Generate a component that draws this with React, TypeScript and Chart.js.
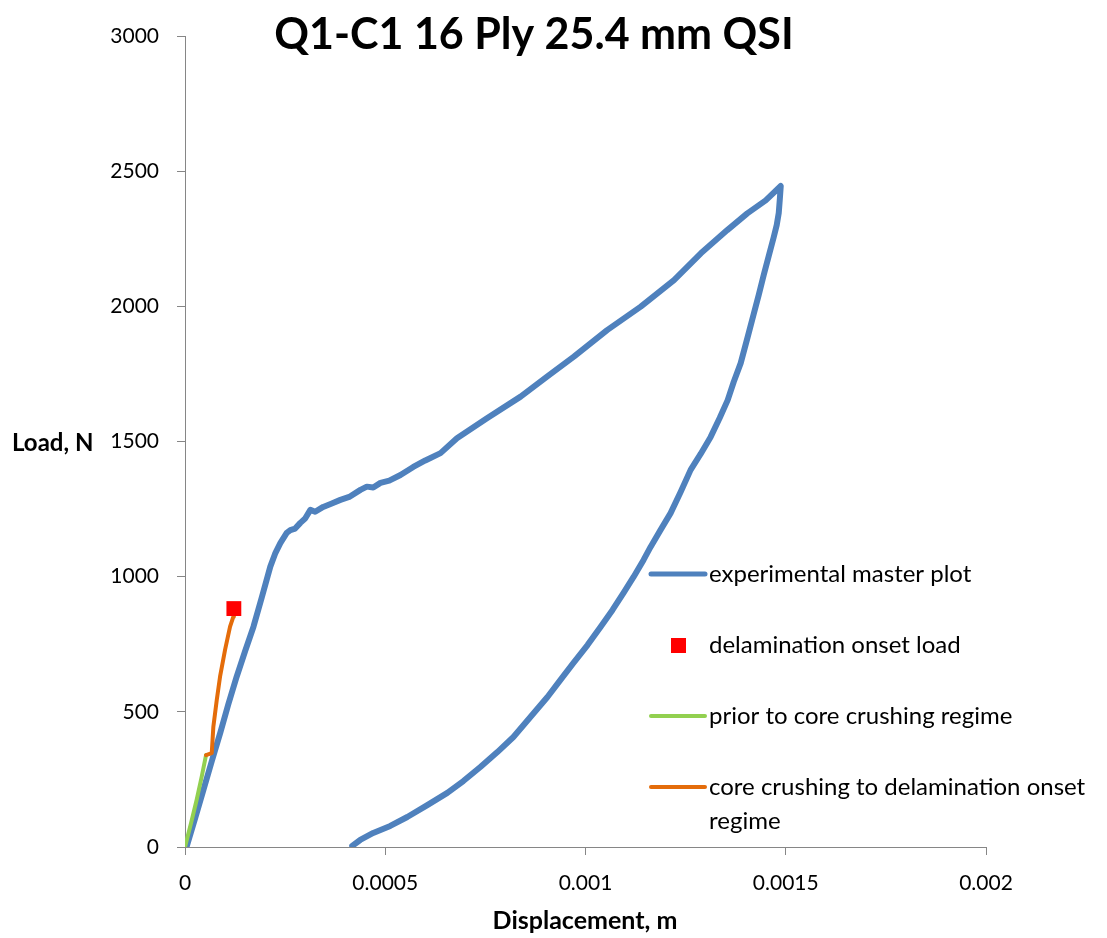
import React, { useEffect, useRef } from 'react';
import { Chart, registerables } from 'chart.js';

Chart.register(...registerables);

// ---- Data ----
const chartTitle = 'Q1-C1 16 Ply 25.4 mm QSI';
const xAxisTitle = 'Displacement, m';
const yAxisTitle = 'Load, N';

const xTickValues = [0, 0.0005, 0.001, 0.0015, 0.002];
const xTickLabels = ['0', '0.0005', '0.001', '0.0015', '0.002'];
const yTickValues = [0, 500, 1000, 1500, 2000, 2500, 3000];
const yTickLabels = ['0', '500', '1000', '1500', '2000', '2500', '3000'];

const seriesLabels = [
  'experimental master plot',
  'delamination onset load',
  'prior to core crushing regime',
  'core crushing to delamination onset regime',
];

// experimental master plot: loading branch then unloading branch
const masterDisp = [
  0.000004, 0.000025, 0.000046, 0.000067, 0.000088, 0.000108, 0.000129, 0.00015, 0.000171, 0.000192,
  0.000213, 0.000225, 0.000238, 0.000254, 0.000263, 0.000275, 0.000288, 0.000300, 0.000313, 0.000325,
  0.000345, 0.000365, 0.000388, 0.000410, 0.000438, 0.000454, 0.000470, 0.000488, 0.000510, 0.000538,
  0.00057, 0.000600, 0.000638, 0.000679, 0.000754, 0.000838, 0.000904, 0.000971, 0.001054, 0.001138,
  0.001221, 0.001288, 0.001354, 0.001404, 0.001450, 0.0014875,
  0.001485, 0.0014825, 0.0014775, 0.00147, 0.0014575, 0.001445, 0.0014325, 0.00142, 0.001405, 0.0013875,
  0.00137, 0.001355, 0.001335, 0.0013125, 0.0012875, 0.0012625, 0.0012375, 0.0012125, 0.0011875, 0.0011625,
  0.001145, 0.00112, 0.001095, 0.0010675, 0.0010375, 0.001005, 0.00097, 0.0009375, 0.000905, 0.0008625,
  0.00082, 0.00078, 0.0007375, 0.000695, 0.000655, 0.000605, 0.000555, 0.0005125, 0.00047, 0.0004375,
  0.0004175,
];
const masterLoad = [
  1, 105, 211, 318, 422, 527, 630, 724, 815, 925,
  1037, 1085, 1124, 1162, 1172, 1178, 1199, 1215, 1247, 1240,
  1258, 1270, 1284, 1295, 1321, 1333, 1330, 1347, 1355, 1376,
  1406, 1430, 1457, 1512, 1586, 1666, 1740, 1814, 1912, 1999,
  2097, 2196, 2282, 2344, 2392, 2445,
  2393, 2345, 2301, 2256, 2186, 2116, 2042, 1972, 1887, 1790,
  1720, 1653, 1587, 1517, 1454, 1395, 1313, 1235, 1173, 1110,
  1062, 999, 940, 877, 814, 747, 681, 618, 555, 481,
  407, 351, 296, 244, 200, 155, 111, 78, 52, 26,
  4,
];

// delamination onset load
const onsetDisp = [0.000122];
const onsetLoad = [882];

// prior to core crushing regime
const priorDisp = [0, 0.000015, 0.000029, 0.000042, 0.0000525];
const priorLoad = [0, 88, 174, 262, 340];

// core crushing to delamination onset regime
const crushDisp = [0.0000525, 0.0000668, 0.0000708, 0.0000793, 0.0000875, 0.0001, 0.0001125, 0.0001208, 0.000122];
const crushLoad = [340, 347, 445, 544, 630, 729, 815, 852, 882];

const seriesColors = ['#4F81BD', '#FF0000', '#92D050', '#E46C0A'];

function toPoints(xs: number[], ys: number[]) {
  return xs.map((x, i) => ({ x, y: ys[i] }));
}

const textPlugin = {
  id: 'textPlugin',
  afterDraw(chart: any) {
    const ctx = chart.ctx as CanvasRenderingContext2D;
    ctx.save();
    ctx.fillStyle = '#000000';
    // title
    ctx.font = 'bold 43px Lato';
    ctx.textAlign = 'center';
    ctx.textBaseline = 'middle';
    ctx.fillText(chartTitle, 534, 35);
    // y axis title (horizontal)
    ctx.font = 'bold 24px Lato';
    ctx.textAlign = 'left';
    ctx.fillText(yAxisTitle, 12, 443);
    // x axis title
    ctx.font = 'bold 25px Lato';
    ctx.textAlign = 'center';
    ctx.fillText(xAxisTitle, 585, 921);

    // legend
    const lx0 = 651;
    const lx1 = 705;
    const tx = 709;
    const rows = [574, 645, 716, 787];
    ctx.font = '24px Lato';
    ctx.textAlign = 'left';
    ctx.lineCap = 'round';
    rows.forEach((ry, i) => {
      if (i === 1) {
        ctx.fillStyle = seriesColors[1];
        ctx.fillRect(671, ry - 7, 15, 15);
      } else {
        ctx.strokeStyle = seriesColors[i];
        ctx.lineWidth = i === 0 ? 5 : 4;
        ctx.beginPath();
        ctx.moveTo(lx0, ry);
        ctx.lineTo(lx1, ry);
        ctx.stroke();
      }
      ctx.fillStyle = '#000000';
      if (i === 3) {
        ctx.fillText('core crushing to delamination onset', tx, ry);
        ctx.fillText('regime', tx, ry + 34);
      } else {
        ctx.fillText(seriesLabels[i], tx, ry);
      }
    });
    ctx.restore();
  },
};

export default function App() {
  const canvasRef = useRef<HTMLCanvasElement | null>(null);

  useEffect(() => {
    if (!canvasRef.current) return;
    document.body.style.margin = '0';
    document.body.style.overflow = 'hidden';
    Chart.defaults.font.family = 'Lato';
    const chart = new Chart(canvasRef.current, {
      type: 'scatter',
      data: {
        datasets: [
          {
            label: seriesLabels[1],
            data: toPoints(onsetDisp, onsetLoad),
            pointStyle: 'rect',
            pointRadius: 10.5,
            pointBackgroundColor: seriesColors[1],
            pointBorderWidth: 0,
            showLine: false,
            order: 0,
          },
          {
            label: seriesLabels[3],
            data: toPoints(crushDisp, crushLoad),
            showLine: true,
            borderColor: seriesColors[3],
            borderWidth: 4,
            pointRadius: 0,
            borderCapStyle: 'round',
            borderJoinStyle: 'round',
            order: 1,
          },
          {
            label: seriesLabels[2],
            data: toPoints(priorDisp, priorLoad),
            showLine: true,
            borderColor: seriesColors[2],
            borderWidth: 4,
            pointRadius: 0,
            borderCapStyle: 'round',
            borderJoinStyle: 'round',
            order: 2,
          },
          {
            label: seriesLabels[0],
            data: toPoints(masterDisp, masterLoad),
            showLine: true,
            borderColor: seriesColors[0],
            borderWidth: 6,
            pointRadius: 0,
            borderCapStyle: 'round',
            borderJoinStyle: 'round',
            order: 3,
          },
        ],
      },
      options: {
        responsive: false,
        animation: false,
        layout: { padding: { top: 36, right: 121, left: 0, bottom: 0 } },
        plugins: {
          legend: { display: false },
          title: { display: false },
          tooltip: { enabled: false },
        },
        scales: {
          x: {
            type: 'linear',
            min: 0,
            max: 0.002,
            afterBuildTicks: (scale: any) => {
              scale.ticks = xTickValues.map((v) => ({ value: v }));
            },
            afterFit: (scale: any) => {
              scale.height = 91;
            },
            ticks: {
              callback: (v: any) => {
                const idx = xTickValues.findIndex((t) => Math.abs(t - Number(v)) < 1e-9);
                return idx >= 0 ? xTickLabels[idx] : '';
              },
              font: { size: 21, family: 'Lato' },
              color: '#000000',
              padding: 16,
              maxRotation: 0,
              autoSkip: false,
            },
            grid: {
              display: true,
              drawOnChartArea: false,
              drawTicks: true,
              tickLength: 8,
              color: '#868686',
            },
            border: { display: true, color: '#868686', width: 1 },
          },
          y: {
            type: 'linear',
            min: 0,
            max: 3000,
            afterBuildTicks: (scale: any) => {
              scale.ticks = yTickValues.map((v) => ({ value: v }));
            },
            afterFit: (scale: any) => {
              scale.width = 185;
            },
            ticks: {
              callback: (v: any) => {
                const idx = yTickValues.indexOf(Number(v));
                return idx >= 0 ? yTickLabels[idx] : '';
              },
              font: { size: 21, family: 'Lato' },
              color: '#000000',
              padding: 18,
              autoSkip: false,
            },
            grid: {
              display: true,
              drawOnChartArea: false,
              drawTicks: true,
              tickLength: 8,
              color: '#868686',
            },
            border: { display: true, color: '#868686', width: 1 },
          },
        },
      },
      plugins: [textPlugin],
    });
    return () => chart.destroy();
  }, []);

  return (
    <canvas
      ref={canvasRef}
      width={1107}
      height={938}
      style={{ display: 'block', width: '1107px', height: '938px' }}
    />
  );
}
